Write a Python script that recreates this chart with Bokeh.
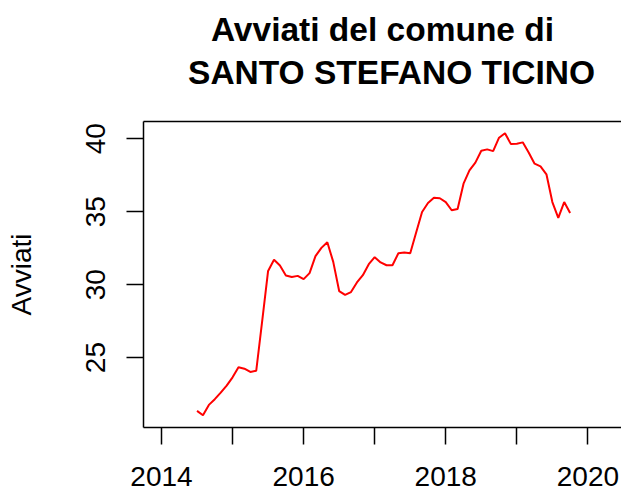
from bokeh.plotting import figure
from bokeh.models import FixedTicker, Range1d, LinearAxis, Title
from bokeh.embed import file_html
from bokeh.resources import INLINE

# Monthly series, Jul 2014 .. Oct 2019
start_year = 2014
start_month = 7
avviati = [21.35, 21.05, 21.76, 22.15, 22.60, 23.08,
           23.65, 24.34, 24.24, 24.02, 24.10, 27.5, 30.94, 31.70, 31.31, 30.63, 30.53, 30.60,
           30.38, 30.79, 31.95, 32.52, 32.91, 31.56, 29.56, 29.30, 29.49, 30.15, 30.65, 31.40,
           31.88, 31.52, 31.33, 31.33, 32.15, 32.20, 32.15, 33.57, 34.98, 35.60, 35.96, 35.92,
           35.66, 35.10, 35.18, 36.92, 37.83, 38.36, 39.18, 39.27, 39.15, 40.07, 40.38, 39.63,
           39.66, 39.75, 39.06, 38.29, 38.11, 37.56, 35.66, 34.57, 35.66, 34.91]
times = [start_year + (start_month - 1 + i) / 12 for i in range(len(avviati))]

x_ticks = [2014, 2015, 2016, 2017, 2018, 2019, 2020]
x_tick_labels = {2014: "2014", 2015: "", 2016: "2016", 2017: "", 2018: "2018", 2019: "", 2020: "2020"}
y_ticks = [25, 30, 35, 40]
title_line1 = "Avviati del comune di"
title_line2 = "SANTO STEFANO TICINO"
y_label = "Avviati"

FONT = "Liberation Sans"

p = figure(width=621, height=493, output_backend="svg", toolbar_location=None,
           x_range=Range1d(2013.7467, 2020.473), y_range=Range1d(20.21, 41.18),
           min_border_left=143, min_border_right=0, min_border_top=121, min_border_bottom=66,
           title=None)
p.outline_line_color = None
p.grid.visible = False
p.background_fill_color = "white"
p.border_fill_color = "white"

p.line(times, avviati, line_color="#FF0000", line_width=2)

for ax in (p.xaxis[0], p.yaxis[0]):
    ax.axis_line_color = "black"
    ax.axis_line_width = 1.5
    ax.major_tick_line_color = "black"
    ax.major_tick_line_width = 1.5
    ax.major_tick_out = 17
    ax.major_tick_in = 0
    ax.minor_tick_line_color = None
    ax.major_label_text_font = FONT
    ax.major_label_text_font_size = "28px"
    ax.major_label_text_color = "black"

p.xaxis[0].ticker = FixedTicker(ticks=x_ticks)
p.xaxis[0].major_label_overrides = {k: v for k, v in x_tick_labels.items()}
p.xaxis[0].major_label_standoff = 22

p.yaxis[0].ticker = FixedTicker(ticks=y_ticks)
p.yaxis[0].major_label_orientation = "vertical"
p.yaxis[0].major_label_standoff = 21
p.yaxis[0].axis_label = y_label
p.yaxis[0].axis_label_text_font = FONT
p.yaxis[0].axis_label_text_font_size = "28px"
p.yaxis[0].axis_label_text_font_style = "normal"
p.yaxis[0].axis_label_text_color = "black"
p.yaxis[0].axis_label_standoff = 47

# Top border of the box; it also carries the two title lines
title2_center = 2017.237  # horizontal centre of the second title line, in x units
top_axis = LinearAxis(axis_line_color="black", axis_line_width=1.5,
                      major_tick_line_color=None, minor_tick_line_color=None,
                      major_tick_out=0, major_tick_in=0,
                      ticker=FixedTicker(ticks=[title2_center]),
                      major_label_overrides={title2_center: title_line2},
                      major_label_text_font=FONT, major_label_text_font_size="33.5px",
                      major_label_text_font_style="bold", major_label_text_color="black",
                      major_label_standoff=31,
                      axis_label=title_line1, axis_label_text_font=FONT,
                      axis_label_text_font_size="33.5px", axis_label_text_font_style="bold",
                      axis_label_text_color="black", axis_label_standoff=3)
p.add_layout(top_axis, "above")
# small blank spacer at the very top
p.add_layout(Title(text=" ", text_font_size="1px", standoff=3), "above")

open("out.html", "w").write(file_html(p, INLINE))
